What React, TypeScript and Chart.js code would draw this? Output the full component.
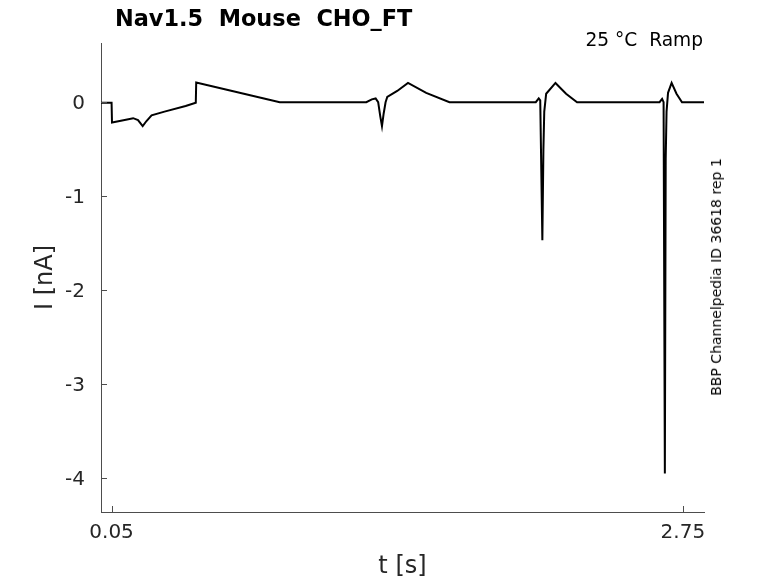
import React, { useEffect, useRef } from "react";
import { Chart, registerables, ChartConfiguration, Plugin } from "chart.js";

Chart.register(...registerables);

// trace (time in s, current in nA)
const times = [
  0.0, 0.05, 0.052, 0.1, 0.152, 0.175, 0.197, 0.215, 0.239, 0.3, 0.4, 0.448,
  0.45, 0.6, 0.845, 1.254, 1.28, 1.298, 1.31, 1.32, 1.328, 1.336, 1.345, 1.353,
  1.4, 1.451, 1.537, 1.647, 2.055, 2.069, 2.076, 2.086, 2.091, 2.095, 2.104,
  2.148, 2.198, 2.25, 2.64, 2.652, 2.659, 2.665, 2.669, 2.673, 2.68, 2.697,
  2.72, 2.746, 2.85,
];
const currents = [
  -0.005, -0.005, -0.216, -0.195, -0.17, -0.19, -0.255, -0.2, -0.14, -0.1,
  -0.04, -0.005, 0.21, 0.13, 0.0, 0.0, 0.03, 0.04, 0.0, -0.15, -0.255, -0.12,
  0.0, 0.056, 0.12, 0.205, 0.1, 0.0, 0.0, 0.04, 0.02, -1.468, -0.5, -0.1, 0.09,
  0.205, 0.09, 0.0, 0.0, 0.035, 0.0, -3.95, -0.6, -0.1, 0.1, 0.205, 0.09, 0.0,
  0.0,
];
const xTicks = [0.05, 2.75];
const yTicks = [0, -1, -2, -3, -4];

const axisColor = "#4d4d4d";
const textColor = "#262626";
const font = "'DejaVu Sans', sans-serif";

// matlab style ticks pointing into the plot
const innerTicks: Plugin<"line"> = {
  id: "innerTicks",
  afterDraw(chart) {
    const { ctx, chartArea, scales } = chart;
    ctx.save();
    ctx.strokeStyle = axisColor;
    ctx.lineWidth = 1;
    ctx.beginPath();
    xTicks.forEach((v) => {
      const px = Math.round(scales.x.getPixelForValue(v)) + 0.5;
      ctx.moveTo(px, chartArea.bottom);
      ctx.lineTo(px, chartArea.bottom - 6);
    });
    yTicks.forEach((v) => {
      const py = Math.round(scales.y.getPixelForValue(v)) + 0.5;
      ctx.moveTo(chartArea.left, py);
      ctx.lineTo(chartArea.left + 6, py);
    });
    ctx.stroke();
    ctx.restore();
  },
};

const App: React.FC = () => {
  const canvasRef = useRef<HTMLCanvasElement>(null);
  const chartRef = useRef<Chart | null>(null);

  useEffect(() => {
    document.body.style.margin = "0";
    if (!canvasRef.current) return;

    const config: ChartConfiguration<"line"> = {
      type: "line",
      data: {
        datasets: [
          {
            data: times.map((t, i) => ({ x: t, y: currents[i] })),
            borderColor: "#000000",
            borderWidth: 2,
            pointRadius: 0,
            tension: 0,
            fill: false,
          },
        ],
      },
      options: {
        animation: false,
        responsive: false,
        devicePixelRatio: 1,
        layout: { padding: { top: 43, right: 74, left: 0, bottom: 0 } },
        plugins: {
          legend: { display: false },
          tooltip: { enabled: false },
        },
        scales: {
          x: {
            type: "linear",
            min: 0,
            max: 2.85,
            afterFit: (s) => {
              s.height = 71;
            },
            afterBuildTicks: (s) => {
              s.ticks = xTicks.map((v) => ({ value: v }));
            },
            grid: { display: false, drawTicks: false },
            border: { display: true, color: axisColor, width: 1 },
            ticks: {
              color: textColor,
              font: { family: font, size: 20 },
              padding: 9,
              maxRotation: 0,
              callback: (v) => String(v),
            },
            title: {
              display: true,
              text: "t [s]",
              color: textColor,
              font: { family: font, size: 24 },
              padding: { top: 0, bottom: 2 },
            },
          },
          y: {
            type: "linear",
            min: -4.36,
            max: 0.63,
            afterFit: (s) => {
              s.width = 101;
            },
            afterBuildTicks: (s) => {
              s.ticks = yTicks.map((v) => ({ value: v }));
            },
            grid: { display: false, drawTicks: false },
            border: { display: true, color: axisColor, width: 1 },
            ticks: {
              color: textColor,
              font: { family: font, size: 20 },
              padding: 16,
              labelOffset: 2,
              callback: (v) => String(v),
            },
            title: {
              display: true,
              text: "I [nA]",
              color: textColor,
              font: { family: font, size: 24 },
              padding: { top: 31, bottom: 0 },
            },
          },
        },
      },
      plugins: [innerTicks],
    };

    chartRef.current?.destroy();
    chartRef.current = new Chart(canvasRef.current, config);

    return () => {
      chartRef.current?.destroy();
      chartRef.current = null;
    };
  }, []);

  return (
    <div
      style={{
        position: "relative",
        width: 778,
        height: 583,
        background: "#ffffff",
        fontFamily: font,
        color: textColor,
      }}
    >
      <canvas ref={canvasRef} width={778} height={583} />
      <div
        style={{
          position: "absolute",
          left: 115,
          top: 4,
          fontSize: 22.4,
          lineHeight: "28px",
          fontWeight: "bold",
          whiteSpace: "pre",
          color: "#000000",
        }}
      >
        {"Nav1.5  Mouse  CHO_FT"}
      </div>
      <div
        style={{
          position: "absolute",
          right: 75,
          top: 29,
          fontSize: 18.6,
          lineHeight: "22px",
          whiteSpace: "pre",
          color: "#000000",
        }}
      >
        {"25 °C  Ramp"}
      </div>
      <div
        style={{
          position: "absolute",
          left: 716,
          top: 277,
          fontSize: 14,
          lineHeight: "16px",
          whiteSpace: "pre",
          color: "#000000",
          transform: "translate(-50%, -50%) rotate(-90deg)",
        }}
      >
        {"BBP Channelpedia ID 36618 rep 1"}
      </div>
    </div>
  );
};

export default App;
